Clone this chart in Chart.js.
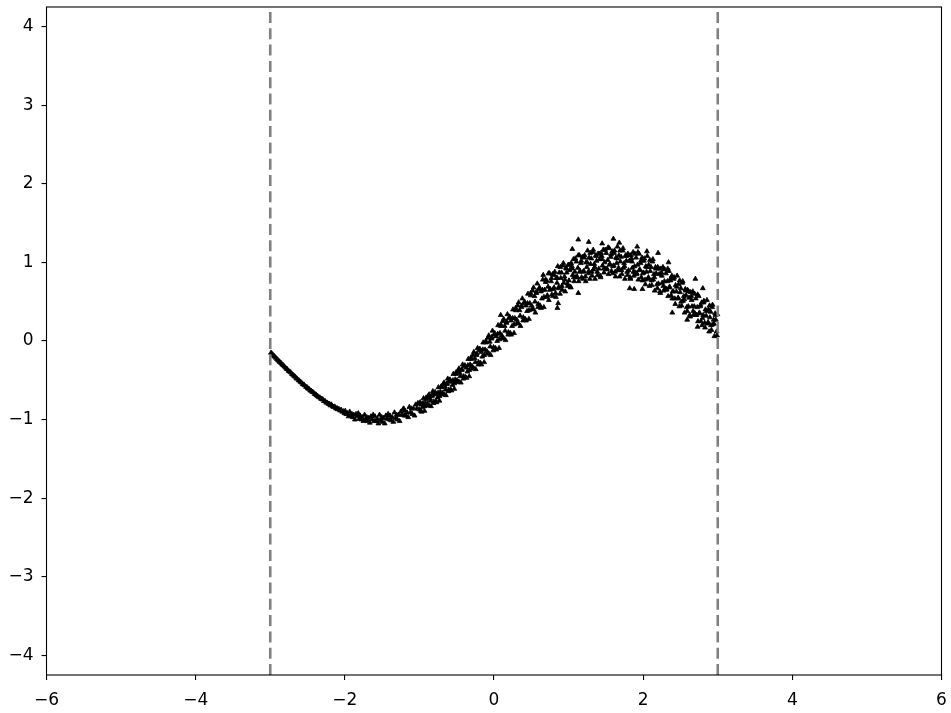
<!DOCTYPE html>
<html>
<head>
<meta charset="utf-8">
<script src="https://cdn.jsdelivr.net/npm/chart.js@4"></script>
<style>
html,body{margin:0;padding:0;background:#fff;}
#wrap{width:951px;height:713px;}
</style>
</head>
<body>
<div id="wrap"><canvas id="c" width="951" height="713"></canvas></div>
<script>
// ---- data ----
const xTickValues = [-6, -4, -2, 0, 2, 4, 6];
const yTickValues = [-4, -3, -2, -1, 0, 1, 2, 3, 4];
const xLimits = [-6, 6];
const yLimits = [-4.25, 4.25];
const boundaryX = [-3, 3];

const pointsLeft = [
[-2.99,-0.15],[-2.98,-0.16],[-2.965,-0.175],[-2.95,-0.19],[-2.94,-0.20],[-2.925,-0.215],[-2.91,-0.23],
[-2.895,-0.245],[-2.88,-0.26],[-2.87,-0.27],[-2.855,-0.28],[-2.84,-0.30],[-2.825,-0.31],[-2.81,-0.325],
[-2.795,-0.34],[-2.78,-0.355],[-2.77,-0.36],[-2.755,-0.38],[-2.74,-0.39],[-2.725,-0.40],[-2.71,-0.42],
[-2.695,-0.43],[-2.68,-0.445],[-2.665,-0.455],[-2.65,-0.475],[-2.64,-0.48],[-2.62,-0.50],[-2.61,-0.505],
[-2.595,-0.52],[-2.58,-0.53],[-2.565,-0.55],[-2.55,-0.555],[-2.54,-0.565],[-2.52,-0.585],[-2.505,-0.59],
[-2.495,-0.605],[-2.48,-0.61],[-2.465,-0.63],[-2.45,-0.635],[-2.435,-0.65],[-2.42,-0.655],[-2.405,-0.675],
[-2.39,-0.68],[-2.38,-0.69],[-2.365,-0.70],[-2.35,-0.715],[-2.335,-0.72],[-2.32,-0.735],[-2.305,-0.74],
[-2.295,-0.745],[-2.28,-0.765],[-2.265,-0.765],[-2.25,-0.785],[-2.235,-0.785],[-2.22,-0.80],[-2.205,-0.80],
[-2.195,-0.82],[-2.18,-0.81],[-2.165,-0.83],[-2.15,-0.84],[-2.135,-0.835],[-2.12,-0.86],[-2.105,-0.855],
[-2.095,-0.87],[-2.08,-0.865],[-2.065,-0.885],[-2.05,-0.875],[-2.035,-0.90],[-2.02,-0.895],[-2.005,-0.92]
];

const pointsLowerMid = [
[-1.995,-0.89],[-1.98,-0.93],[-1.965,-0.92],[-1.95,-0.96],[-1.935,-0.90],[-1.92,-0.95],[-1.905,-0.93],
[-1.895,-0.97],[-1.88,-0.94],[-1.865,-1.00],[-1.85,-0.93],[-1.835,-0.96],[-1.82,-0.92],[-1.805,-0.99],
[-1.795,-0.95],[-1.78,-1.00],[-1.765,-0.97],[-1.75,-1.02],[-1.735,-0.94],[-1.72,-1.00],[-1.705,-0.97],
[-1.695,-1.02],[-1.68,-0.98],[-1.665,-1.04],[-1.65,-0.96],[-1.635,-1.00],[-1.62,-0.94],[-1.605,-1.02],
[-1.595,-0.96],[-1.58,-1.02],[-1.565,-0.99],[-1.55,-1.05],[-1.535,-0.94],[-1.52,-1.01],[-1.505,-0.97],
[-1.495,-1.03],[-1.48,-0.98],[-1.465,-1.05],[-1.45,-0.95],[-1.435,-0.99],[-1.42,-0.93],[-1.405,-1.00],
[-1.395,-0.95],[-1.38,-1.01],[-1.365,-0.97],[-1.35,-1.03],[-1.335,-0.91],[-1.32,-0.98],[-1.305,-0.94],
[-1.295,-1.00],[-1.28,-0.94],[-1.265,-1.02],[-1.25,-0.90],[-1.235,-0.94],[-1.22,-0.87],[-1.205,-0.95],
[-1.195,-0.89],[-1.18,-0.95],[-1.165,-0.91],[-1.15,-0.97],[-1.135,-0.84],[-1.12,-0.91],[-1.105,-0.86],
[-1.095,-0.93],[-1.08,-0.86],[-1.065,-0.95],[-1.05,-0.81],[-1.035,-0.86],[-1.02,-0.79],[-1.005,-0.87]
];

const pointsMid = [
[-0.995,-0.80],[-0.982,-0.89],[-0.97,-0.81],[-0.957,-0.84],[-0.945,-0.73],[-0.932,-0.89],[-0.92,-0.79],[-0.907,-0.74],
[-0.895,-0.80],[-0.882,-0.70],[-0.87,-0.82],[-0.857,-0.73],[-0.845,-0.83],[-0.832,-0.70],[-0.82,-0.64],[-0.807,-0.77],
[-0.795,-0.67],[-0.782,-0.77],[-0.77,-0.68],[-0.757,-0.72],[-0.745,-0.59],[-0.732,-0.76],[-0.72,-0.65],[-0.707,-0.59],
[-0.695,-0.66],[-0.682,-0.55],[-0.67,-0.68],[-0.657,-0.58],[-0.645,-0.69],[-0.632,-0.55],[-0.62,-0.48],[-0.607,-0.62],
[-0.595,-0.51],[-0.582,-0.62],[-0.57,-0.52],[-0.557,-0.56],[-0.545,-0.42],[-0.532,-0.61],[-0.52,-0.49],[-0.507,-0.42],
[-0.495,-0.50],[-0.482,-0.38],[-0.47,-0.52],[-0.457,-0.41],[-0.445,-0.53],[-0.432,-0.37],[-0.42,-0.30],[-0.407,-0.45],
[-0.395,-0.32],[-0.382,-0.46],[-0.37,-0.34],[-0.357,-0.39],[-0.345,-0.23],[-0.332,-0.45],[-0.32,-0.30],[-0.307,-0.23],
[-0.295,-0.32],[-0.282,-0.18],[-0.27,-0.35],[-0.257,-0.22],[-0.245,-0.36],[-0.232,-0.18],[-0.22,-0.09],[-0.207,-0.27],
[-0.195,-0.12],[-0.182,-0.28],[-0.17,-0.14],[-0.157,-0.20],[-0.145,-0.02],[-0.132,-0.27],[-0.12,-0.11],[-0.107,-0.02],
[-0.095,-0.13],[-0.082,0.04],[-0.07,-0.16],[-0.057,-0.01],[-0.045,-0.18],[-0.032,0.03],[-0.02,0.13],[-0.007,-0.08],
[0.005,0.08],[0.018,-0.09],[0.03,0.06],[0.043,0.00],[0.055,0.20],[0.068,-0.09],[0.08,0.10],[0.093,0.19],
[0.105,0.07],[0.118,0.25],[0.13,0.03],[0.143,0.19],[0.155,0.01],[0.168,0.23],[0.18,0.34],[0.193,0.11],
[0.205,0.29],[0.218,0.10],[0.23,0.26],[0.243,0.19],[0.255,0.40],[0.268,0.10],[0.28,0.29],[0.293,0.39],
[0.305,0.27],[0.318,0.45],[0.33,0.22],[0.343,0.39],[0.355,0.19],[0.368,0.43],[0.38,0.54],[0.393,0.30],
[0.405,0.48],[0.418,0.28],[0.43,0.45],[0.443,0.38],[0.455,0.60],[0.468,0.28],[0.48,0.48],[0.493,0.58],
[0.505,0.45],[0.518,0.64],[0.53,0.40],[0.543,0.57],[0.555,0.36],[0.568,0.61],[0.58,0.73],[0.593,0.47],
[0.605,0.66],[0.618,0.45],[0.63,0.63],[0.643,0.54],[0.655,0.78],[0.668,0.43],[0.68,0.65],[0.693,0.75]
];

const pointsMidExtra = [
[-0.99,-0.78],[-0.97,-0.90],[-0.95,-0.79],[-0.93,-0.83],[-0.91,-0.72],
[-0.89,-0.82],[-0.87,-0.68],[-0.85,-0.76],[-0.83,-0.69],[-0.81,-0.79],
[-0.79,-0.65],[-0.77,-0.78],[-0.75,-0.66],[-0.73,-0.70],[-0.71,-0.58],
[-0.69,-0.68],[-0.67,-0.53],[-0.65,-0.62],[-0.63,-0.54],[-0.61,-0.64],
[-0.59,-0.49],[-0.57,-0.63],[-0.55,-0.50],[-0.53,-0.54],[-0.51,-0.40],
[-0.49,-0.52],[-0.47,-0.35],[-0.45,-0.45],[-0.43,-0.36],[-0.41,-0.48],
[-0.39,-0.31],[-0.37,-0.47],[-0.35,-0.31],[-0.33,-0.37],[-0.31,-0.21],
[-0.29,-0.35],[-0.27,-0.14],[-0.25,-0.27],[-0.23,-0.16],[-0.21,-0.30],
[-0.19,-0.10],[-0.17,-0.30],[-0.15,-0.11],[-0.13,-0.18],[-0.11,0.00],
[-0.09,-0.16],[-0.07,0.07],[-0.05,-0.07],[-0.03,0.05],[-0.01,-0.12],
[0.01,0.10],[0.03,-0.11],[0.05,0.09],[0.07,0.02],[0.09,0.21],
[0.11,0.04],[0.13,0.28],[0.15,0.13],[0.17,0.25],[0.19,0.08],
[0.21,0.31],[0.23,0.08],[0.25,0.29],[0.27,0.21],[0.29,0.42],
[0.31,0.23],[0.33,0.49],[0.35,0.32],[0.37,0.45],[0.39,0.26],
[0.41,0.50],[0.43,0.26],[0.45,0.48],[0.47,0.39],[0.49,0.61],
[0.51,0.41],[0.53,0.68],[0.55,0.50],[0.57,0.63],[0.59,0.43],
[0.61,0.68],[0.63,0.42],[0.65,0.65],[0.67,0.56],[0.69,0.78]
];

const pointsRight = [
[0.705,0.77],[0.715,0.58],[0.725,0.69],[0.735,0.52],[0.745,0.86],[0.755,0.66],[0.765,0.76],[0.775,0.59],[0.785,0.85],[0.795,0.66],
[0.805,0.68],[0.815,0.88],[0.825,0.61],[0.835,0.80],[0.845,0.74],[0.855,0.95],[0.865,0.67],[0.875,0.87],[0.885,0.60],[0.895,0.80],
[0.905,0.87],[0.915,0.65],[0.925,0.96],[0.935,0.74],[0.945,0.82],[0.955,0.63],[0.965,0.93],[0.975,0.87],[0.985,0.73],[0.995,0.97],
[1.005,0.77],[1.015,0.90],[1.025,0.69],[1.035,0.99],[1.045,0.95],[1.055,0.84],[1.065,1.04],[1.075,0.76],[1.085,0.88],[1.095,0.81],
[1.105,1.01],[1.115,0.82],[1.125,0.93],[1.135,0.76],[1.145,1.09],[1.155,0.89],[1.165,0.99],[1.175,0.81],[1.185,1.07],[1.195,0.88],
[1.205,0.89],[1.215,1.09],[1.225,0.82],[1.235,1.00],[1.245,0.94],[1.255,1.15],[1.265,0.86],[1.275,1.06],[1.285,0.79],[1.295,0.98],
[1.305,1.05],[1.315,0.83],[1.325,1.13],[1.335,0.91],[1.345,0.98],[1.355,0.79],[1.365,1.09],[1.375,1.02],[1.385,0.88],[1.395,1.11],
[1.405,0.92],[1.415,1.04],[1.425,0.83],[1.435,1.12],[1.445,1.08],[1.455,0.96],[1.465,1.16],[1.475,0.87],[1.485,1.00],[1.495,0.92],
[1.505,1.12],[1.515,0.92],[1.525,1.03],[1.535,0.85],[1.545,1.18],[1.555,0.98],[1.565,1.07],[1.575,0.89],[1.585,1.14],[1.595,0.95],
[1.605,0.96],[1.615,1.15],[1.625,0.88],[1.635,1.06],[1.645,0.99],[1.655,1.20],[1.665,0.90],[1.675,1.09],[1.685,0.82],[1.695,1.01],
[1.705,1.07],[1.715,0.85],[1.725,1.15],[1.735,0.93],[1.745,0.99],[1.755,0.79],[1.765,1.09],[1.775,1.02],[1.785,0.88],[1.795,1.11],
[1.805,0.90],[1.815,1.02],[1.825,0.81],[1.835,1.09],[1.845,1.05],[1.855,0.93],[1.865,1.13],[1.875,0.83],[1.885,0.95],[1.895,0.87],
[1.905,1.06],[1.915,0.86],[1.925,0.97],[1.935,0.78],[1.945,1.11],[1.955,0.91],[1.965,0.99],[1.975,0.81],[1.985,1.06],[1.995,0.86],
[2.005,0.87],[2.015,1.05],[2.025,0.78],[2.035,0.95],[2.045,0.88],[2.055,1.08],[2.065,0.79],[2.075,0.97],[2.085,0.70],[2.095,0.89],
[2.105,0.94],[2.115,0.71],[2.125,1.01],[2.135,0.78],[2.145,0.85],[2.155,0.64],[2.165,0.94],[2.175,0.86],[2.185,0.72],[2.195,0.94],
[2.205,0.73],[2.215,0.85],[2.225,0.63],[2.235,0.92],[2.245,0.87],[2.255,0.74],[2.265,0.94],[2.275,0.64],[2.285,0.76],[2.295,0.67],
[2.305,0.86],[2.315,0.66],[2.325,0.76],[2.335,0.57],[2.345,0.89],[2.355,0.69],[2.365,0.77],[2.375,0.58],[2.385,0.83],[2.395,0.63],
[2.405,0.63],[2.415,0.81],[2.425,0.54],[2.435,0.71],[2.445,0.63],[2.455,0.83],[2.465,0.54],[2.475,0.72],[2.485,0.44],[2.495,0.62],
[2.505,0.67],[2.515,0.45],[2.525,0.74],[2.535,0.51],[2.545,0.57],[2.555,0.36],[2.565,0.66],[2.575,0.58],[2.585,0.43],[2.595,0.65],
[2.605,0.44],[2.615,0.55],[2.625,0.33],[2.635,0.62],[2.645,0.57],[2.655,0.44],[2.665,0.63],[2.675,0.33],[2.685,0.44],[2.695,0.35],
[2.705,0.54],[2.715,0.33],[2.725,0.43],[2.735,0.25],[2.745,0.57],[2.755,0.36],[2.765,0.44],[2.775,0.25],[2.785,0.49],[2.795,0.29],
[2.805,0.33],[2.815,0.51],[2.825,0.23],[2.835,0.40],[2.845,0.32],[2.855,0.52],[2.865,0.22],[2.875,0.40],[2.885,0.12],[2.895,0.30],
[2.905,0.37],[2.915,0.14],[2.925,0.43],[2.935,0.21],[2.945,0.27],[2.955,0.06],[2.965,0.35],[2.975,0.27],[2.985,0.12],[2.995,0.34]
];

const pointsRightExtra = [
[0.71,0.56],[0.73,0.86],[0.75,0.65],[0.77,0.80],[0.79,0.57],
[0.81,0.84],[0.83,0.56],[0.85,0.80],[0.87,0.69],[0.89,0.94],
[0.91,0.70],[0.93,0.99],[0.95,0.78],[0.97,0.92],[0.99,0.70],
[1.01,0.97],[1.03,0.68],[1.05,0.92],[1.07,0.81],[1.09,1.05],
[1.11,0.81],[1.13,1.09],[1.15,0.88],[1.17,1.02],[1.19,0.79],
[1.21,1.06],[1.23,0.76],[1.25,1.00],[1.27,0.89],[1.29,1.12],
[1.31,0.88],[1.33,1.16],[1.35,0.94],[1.37,1.08],[1.39,0.84],
[1.41,1.11],[1.43,0.81],[1.45,1.04],[1.47,0.92],[1.49,1.16],
[1.51,0.91],[1.53,1.19],[1.55,0.97],[1.57,1.10],[1.59,0.86],
[1.61,1.12],[1.63,0.82],[1.65,1.05],[1.67,0.93],[1.69,1.15],
[1.71,0.90],[1.73,1.18],[1.75,0.95],[1.77,1.08],[1.79,0.84],
[1.81,1.09],[1.83,0.79],[1.85,1.01],[1.87,0.88],[1.89,1.11],
[1.91,0.85],[1.93,1.13],[1.95,0.90],[1.97,1.02],[1.99,0.77],
[2.01,1.02],[2.03,0.72],[2.05,0.94],[2.07,0.81],[2.09,1.03],
[2.11,0.77],[2.13,1.04],[2.15,0.81],[2.17,0.92],[2.19,0.67],
[2.21,0.92],[2.23,0.61],[2.25,0.83],[2.27,0.70],[2.29,0.91],
[2.31,0.65],[2.33,0.92],[2.35,0.68],[2.37,0.80],[2.39,0.54],
[2.41,0.79],[2.43,0.47],[2.45,0.69],[2.47,0.55],[2.49,0.77],
[2.51,0.50],[2.53,0.76],[2.55,0.53],[2.57,0.64],[2.59,0.38],
[2.61,0.63],[2.63,0.31],[2.65,0.52],[2.67,0.38],[2.69,0.60],
[2.71,0.33],[2.73,0.59],[2.75,0.35],[2.77,0.46],[2.79,0.20],
[2.81,0.49],[2.83,0.17],[2.85,0.38],[2.87,0.24],[2.89,0.45],
[2.91,0.20],[2.93,0.46],[2.95,0.22],[2.97,0.33],[2.99,0.07]
];

const pointsOutliers = [
[0.09,0.33],[0.66,0.84],[0.85,0.42],[0.86,0.48],[1.13,1.29],[1.13,0.61],[1.27,1.26],[1.6,1.30],
[1.82,0.67],[1.88,0.66],[1.99,0.66],[2.2,1.12],[2.34,1.0],[2.39,0.36],[2.59,0.27],[2.7,0.79],
[2.73,0.18],[2.8,0.67],[1.45,1.24],[1.68,1.25],[1.05,1.17],[1.92,1.20],[2.05,1.14],[-1.21,-0.86]
];

// ---- build chart ----
const toXY = arr => arr.map(p => ({x: p[0], y: p[1]}));
const scatterData = toXY([].concat(pointsLeft, pointsLowerMid, pointsMid, pointsMidExtra,
                                   pointsRight, pointsRightExtra, pointsOutliers));
const fmt = v => (v < 0 ? '\u2212' + Math.abs(v) : String(v));

const boundaryDatasets = boundaryX.map(bx => ({
  type: 'line',
  data: [{x: bx, y: yLimits[0]}, {x: bx, y: yLimits[1]}],
  borderColor: '#808080',
  borderWidth: 2.6,
  borderDash: [11, 5.3],
  pointRadius: 0,
  fill: false,
  order: 0,
  clip: false
}));

const framePlugin = {
  id: 'frame',
  afterDraw(chart) {
    const {ctx, chartArea: a} = chart;
    ctx.save();
    ctx.strokeStyle = '#000';
    ctx.lineWidth = 1.1;
    ctx.strokeRect(a.left, a.top, a.right - a.left, a.bottom - a.top);
    ctx.restore();
  }
};

const tickFont = {family: "'DejaVu Sans'", size: 17};

new Chart(document.getElementById('c'), {
  type: 'scatter',
  data: {
    datasets: [
      ...boundaryDatasets,
      {
        type: 'scatter',
        data: scatterData,
        pointStyle: 'triangle',
        pointRadius: 2.8,
        pointBorderWidth: 0.8,
        pointBorderColor: '#000',
        borderColor: '#000',
        backgroundColor: '#000',
        pointBackgroundColor: '#000',
        order: 1
      }
    ]
  },
  options: {
    responsive: false,
    animation: false,
    devicePixelRatio: 1,
    layout: {padding: {top: 7, right: 9.5, left: 0, bottom: 0}},
    plugins: {legend: {display: false}, tooltip: {enabled: false}},
    scales: {
      x: {
        type: 'linear',
        min: xLimits[0], max: xLimits[1],
        afterBuildTicks: s => { s.ticks = xTickValues.map(v => ({value: v})); },
        afterFit: s => { s.height = 38; s.paddingLeft = 0; s.paddingRight = 0; },
        border: {display: false},
        grid: {drawOnChartArea: false, drawTicks: true, tickLength: 5, color: '#000', lineWidth: 1.1},
        ticks: {color: '#000', font: tickFont, padding: 10, autoSkip: false, maxRotation: 0, callback: v => fmt(v)}
      },
      y: {
        type: 'linear',
        min: yLimits[0], max: yLimits[1],
        afterBuildTicks: s => { s.ticks = yTickValues.map(v => ({value: v})); },
        afterFit: s => { s.width = 46.5; s.paddingTop = 0; s.paddingBottom = 0; },
        border: {display: false},
        grid: {drawOnChartArea: false, drawTicks: true, tickLength: 5, color: '#000', lineWidth: 1.1},
        ticks: {color: '#000', font: tickFont, padding: 8, autoSkip: false, callback: v => fmt(v)}
      }
    }
  },
  plugins: [framePlugin]
});
</script>
</body>
</html>
